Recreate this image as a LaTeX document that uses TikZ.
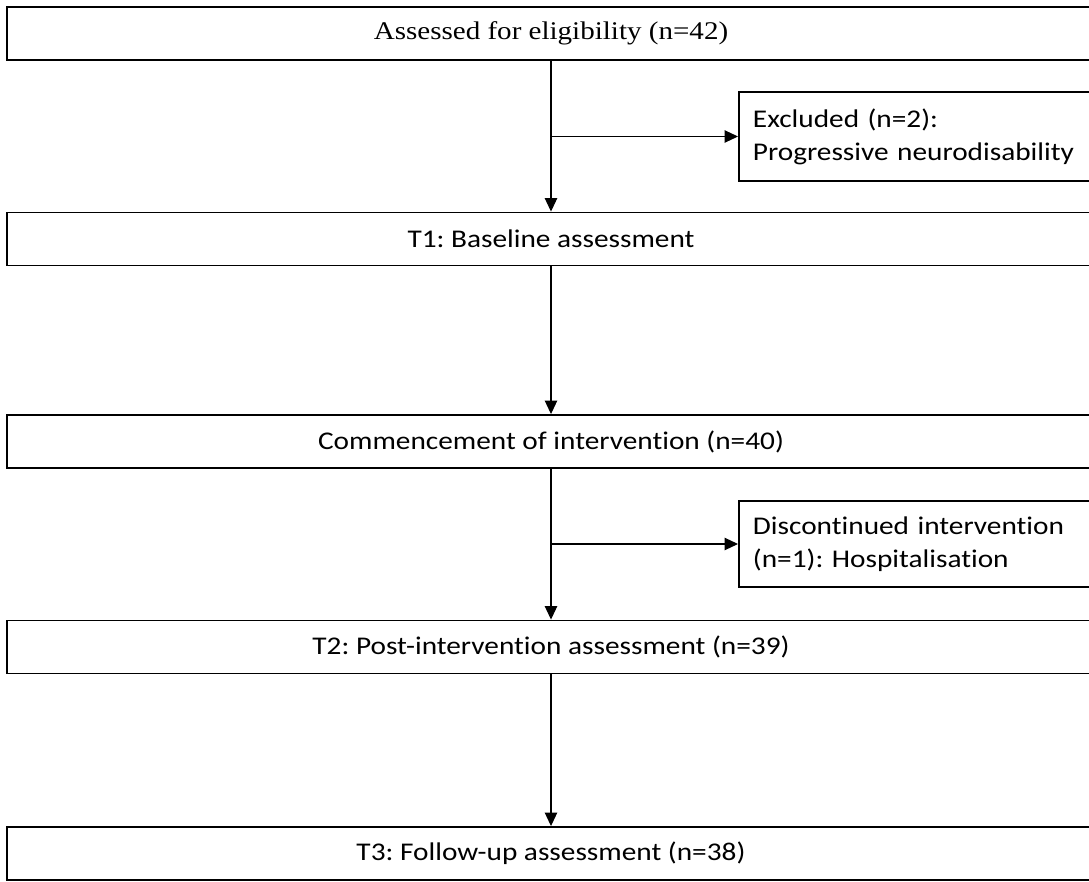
\documentclass[tikz,border=0pt]{standalone}
\usepackage{fontspec}
\setmainfont{Carlito}[FakeStretch=1.15, Ligatures=NoCommon]
\newfontfamily\serifboxfont{Liberation Serif}[FakeStretch=1.14]
\usetikzlibrary{arrows.meta}
\frenchspacing

\begin{document}
\begin{tikzpicture}[x=0.02cm, y=-0.02cm,
    font=\fontsize{14.5}{17}\selectfont,
    box/.style={draw, line width=1.1pt, minimum width=21.76cm,
      minimum height=1.06cm, inner sep=0pt},
    sidebox/.style={draw, line width=1.1pt, anchor=west, text width=6.58cm,
      inner xsep=0.28cm, inner ysep=0pt, align=left,
      font=\fontsize{14.5}{18.8}\selectfont},
    flow/.style={line width=0.6pt, -{Triangle[length=0.27cm, width=0.25cm]}}]
  \useasboundingbox (0,0) rectangle (1089,882);
  \clip (0,0) rectangle (1089,882);

  % wide boxes down the left column
  \node[box, font=\serifboxfont\fontsize{14.5}{17}\selectfont] (assessed) at (551,33.5)
    {Assessed for eligibility (n=42)};
  \node[box] (baseline) at (551,239) {T1: Baseline assessment};
  \node[box] (commence) at (551,441.5) {Commencement of intervention (n=40)};
  \node[box] (postint) at (551,647) {T2: Post-intervention assessment (n=39)};
  \node[box] (followup) at (551,853.5) {T3: Follow-up assessment (n=38)};

  % boxes for the ones who dropped out
  \node[sidebox, minimum height=1.78cm] (excluded) at (738,136.5)
    {Excluded (n=2):\\Progressive neurodisability};
  \node[sidebox, minimum height=1.72cm] (discont) at (738,544)
    {Discontinued intervention\\(n=1): Hospitalisation};

  % main flow
  \draw[flow] (assessed.south) -- (baseline.north);
  \draw[flow] (baseline.south) -- (commence.north);
  \draw[flow] (commence.south) -- (postint.north);
  \draw[flow] (postint.south) -- (followup.north);

  % side branches
  \coordinate (split1) at (assessed.south |- excluded.west);
  \coordinate (split2) at (commence.south |- discont.west);
  \draw[flow] (split1) -- (excluded.west);
  \draw[flow] (split2) -- (discont.west);

\end{tikzpicture}
\end{document}
